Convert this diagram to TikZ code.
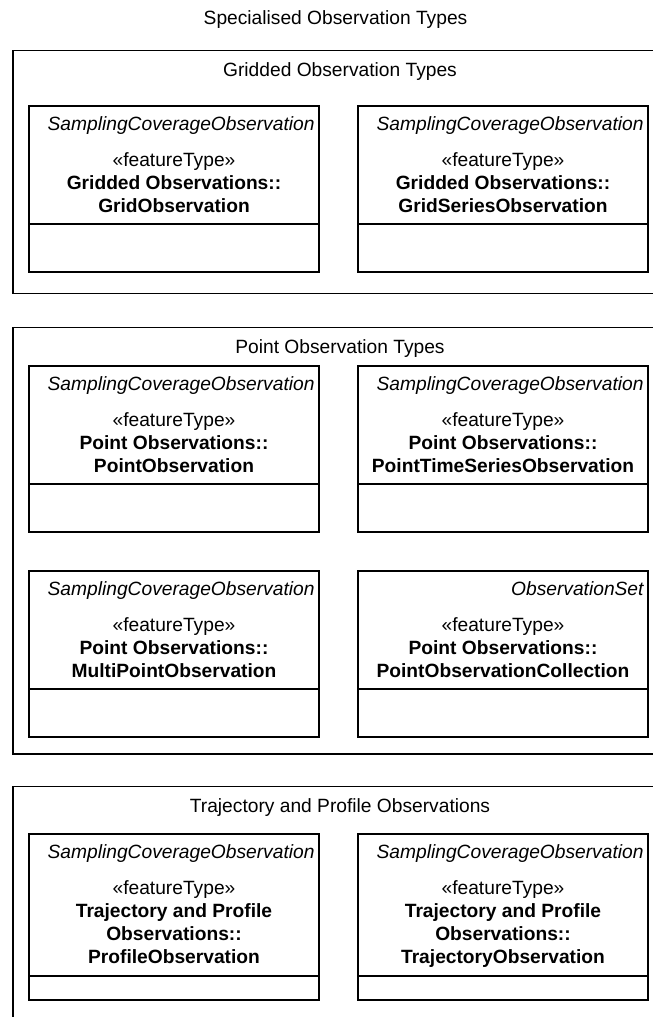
\documentclass[tikz,border=0pt]{standalone}
\usepackage{fontspec}
\setmainfont{Liberation Sans}
\usetikzlibrary{calc}
\tikzset{
  line/.style={draw=black, line width=1.3pt},
  pkgbox/.style={line, anchor=north west, minimum width=654pt, inner sep=0pt, outer sep=0pt},
  classbox/.style={line, anchor=north west, minimum width=290pt, minimum height=166pt, inner sep=0pt, outer sep=0pt},
  txt/.style={inner sep=0pt, outer sep=0pt, font=\fontsize{19.2}{23}\selectfont},
  itxt/.style={inner sep=0pt, outer sep=0pt, font=\fontsize{19.2}{23}\selectfont\itshape},
  btxt/.style={inner sep=0pt, outer sep=0pt, font=\fontsize{19.2}{23}\selectfont\bfseries},
}
% #1 name, #2 left x, #3 top y, #4 superclass, #5 divider offset, #6 bold lines
\newcommand\umlclass[6]{%
  \node[classbox] (#1) at (#2,#3) {};
  \draw[line] ($(#1.north west)+(0,#5)$) -- ($(#1.north east)+(0,#5)$);
  \node[itxt, anchor=base east] (#1-sup) at ($(#1.north east)+(-4.5,24.5)$) {#4};
  \node[txt, anchor=base] (#1-st) at ($(#1.north)+(0,60.5)$) {«featureType»};
  \foreach \l [count=\i] in {#6} {
    \node[btxt, anchor=base] (#1-\i) at ($(#1.north)+(0,60.5+23*\i)$) {\l};
  }%
}
\begin{document}
\begin{tikzpicture}[x=1pt, y=-1pt]
\useasboundingbox (0,0) rectangle (653,1017);
\clip (0,0) rectangle (653,1017);
\fill[white] (0,0) rectangle (653,1017);

\node[txt, anchor=base] (title) at (335.5,24) {Specialised Observation Types};

% Package 1
\node[pkgbox, minimum height=243pt] (p1) at (13,50.5) {};
\node[txt, anchor=base] (p1-l) at (340,76) {Gridded Observation Types};
\umlclass{c1}{29}{106}{SamplingCoverageObservation}{118}{Gridded Observations::,GridObservation}
\umlclass{c2}{358}{106}{SamplingCoverageObservation}{118}{Gridded Observations::,GridSeriesObservation}

% Package 2
\node[pkgbox, minimum height=426.5pt] (p2) at (13,327.5) {};
\node[txt, anchor=base] (p2-l) at (340,353) {Point Observation Types};
\umlclass{c3}{29}{366}{SamplingCoverageObservation}{118}{Point Observations::,PointObservation}
\umlclass{c4}{358}{366}{SamplingCoverageObservation}{118}{Point Observations::,PointTimeSeriesObservation}
\umlclass{c5}{29}{571}{SamplingCoverageObservation}{118}{Point Observations::,MultiPointObservation}
\umlclass{c6}{358}{571}{ObservationSet}{118}{Point Observations::,PointObservationCollection}

% Package 3
\node[pkgbox, minimum height=260pt] (p3) at (13,786.5) {};
\node[txt, anchor=base] (p3-l) at (340,812) {Trajectory and Profile Observations};
\umlclass{c7}{29}{834}{SamplingCoverageObservation}{142}{Trajectory and Profile,Observations::,ProfileObservation}
\umlclass{c8}{358}{834}{SamplingCoverageObservation}{142}{Trajectory and Profile,Observations::,TrajectoryObservation}
\end{tikzpicture}
\end{document}
